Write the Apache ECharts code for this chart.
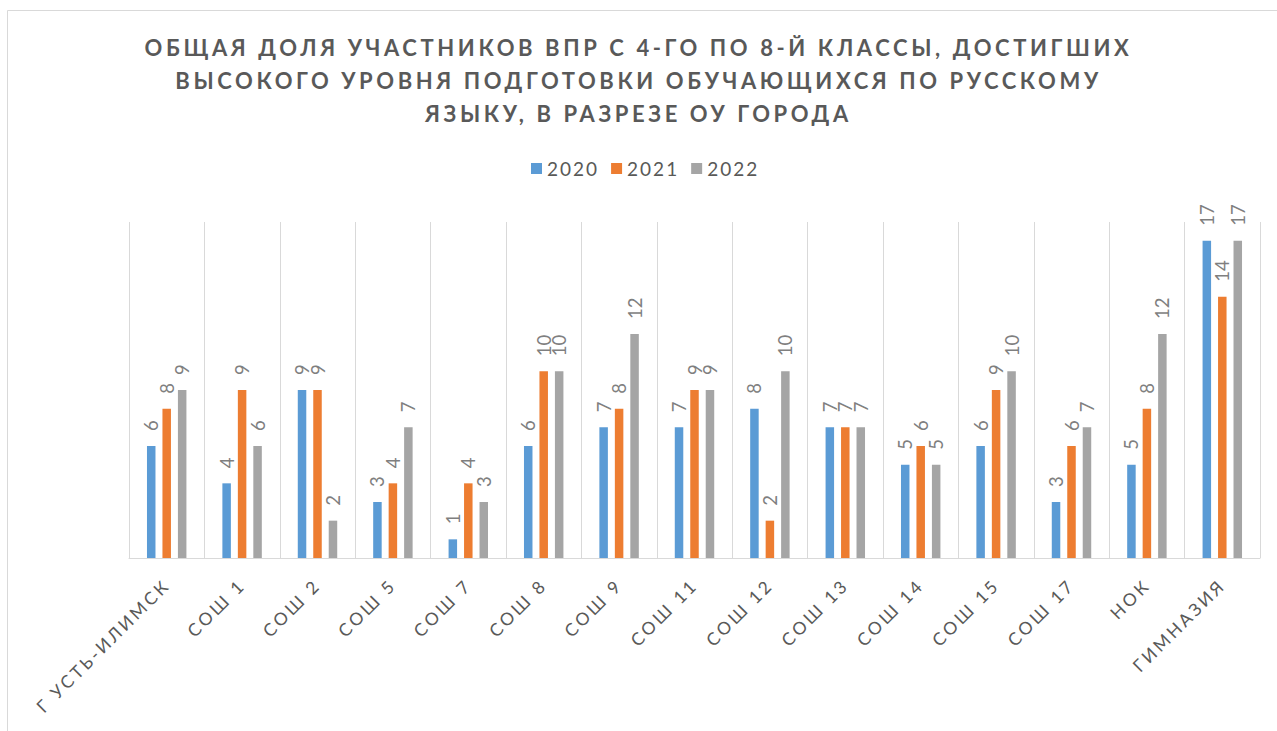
<!DOCTYPE html>
<html>
<head>
<meta charset="utf-8">
<script src="https://cdn.jsdelivr.net/npm/echarts@6/dist/echarts.min.js"></script>
<style>
html, body { margin: 0; padding: 0; background: #ffffff; }
#chart { width: 1277px; height: 731px; }
svg text[fill="#595959"] { letter-spacing: 3.6px; }
svg text[fill="#595958"] { letter-spacing: 2.9px; }
svg text[fill="#595957"] { letter-spacing: 2px; }
</style>
</head>
<body>
<div id="chart"></div>
<script>
var titleText = "ОБЩАЯ ДОЛЯ УЧАСТНИКОВ ВПР С 4-ГО ПО 8-Й КЛАССЫ, ДОСТИГШИХ\nВЫСОКОГО УРОВНЯ ПОДГОТОВКИ ОБУЧАЮЩИХСЯ ПО РУССКОМУ\nЯЗЫКУ, В РАЗРЕЗЕ ОУ ГОРОДА";
var categories = ["Г УСТЬ-ИЛИМСК", "СОШ 1", "СОШ 2", "СОШ 5", "СОШ 7", "СОШ 8", "СОШ 9", "СОШ 11", "СОШ 12", "СОШ 13", "СОШ 14", "СОШ 15", "СОШ 17", "НОК", "ГИМНАЗИЯ"];
var seriesNames = ["2020", "2021", "2022"];
var values2020 = [6, 4, 9, 3, 1, 6, 7, 7, 8, 7, 5, 6, 3, 5, 17];
var values2021 = [8, 9, 9, 4, 4, 10, 8, 9, 2, 7, 6, 9, 6, 8, 14];
var values2022 = [9, 6, 2, 7, 3, 10, 12, 9, 10, 7, 5, 10, 7, 12, 17];
var colors = ["#5b9bd5", "#ed7d31", "#a5a5a5"];

var chart = echarts.init(document.getElementById('chart'), null, { renderer: 'svg' });

function makeSeries(name, data, color) {
  return {
    name: name,
    type: 'bar',
    data: data,
    barWidth: 8.5,
    barGap: '82%',
    itemStyle: { color: color },
    label: {
      show: true,
      position: 'top',
      rotate: 90,
      align: 'left',
      verticalAlign: 'middle',
      distance: 15,
      color: '#7f7f7f',
      fontFamily: 'Lato',
      fontSize: 18.5
    }
  };
}

chart.setOption({
  animation: false,
  backgroundColor: '#ffffff',
  color: colors,
  title: {
    text: titleText,
    left: 'center',
    top: 26,
    textStyle: {
      color: '#595959',
      fontFamily: 'Lato',
      fontWeight: 'bold',
      fontSize: 22,
      lineHeight: 33
    }
  },
  legend: {
    data: seriesNames,
    left: 531,
    top: 159,
    padding: 0,
    itemWidth: 11,
    itemHeight: 11,
    itemGap: 20,
    icon: 'rect',
    textStyle: { color: '#595957', fontFamily: 'Lato', fontSize: 19 }
  },
  graphic: [{
    type: 'rect',
    shape: { x: 7.5, y: 10.5, width: 1400, height: 900 },
    style: { fill: 'none', stroke: '#d9d9d9', lineWidth: 1 },
    silent: true
  }],
  grid: { left: 129, right: 17, top: 222, bottom: 173 },
  xAxis: {
    type: 'category',
    data: categories,
    axisLine: { show: true, lineStyle: { color: '#d9d9d9', width: 1 } },
    axisTick: { show: false },
    splitLine: { show: true, interval: 0, lineStyle: { color: '#d9d9d9', width: 1 } },
    axisLabel: {
      interval: 0,
      rotate: 45,
      margin: 24,
      color: '#595958',
      fontFamily: 'Lato',
      fontSize: 17.5
    }
  },
  yAxis: {
    type: 'value',
    min: 0,
    max: 18,
    show: false,
    splitLine: { show: false }
  },
  series: [
    makeSeries(seriesNames[0], values2020, colors[0]),
    makeSeries(seriesNames[1], values2021, colors[1]),
    makeSeries(seriesNames[2], values2022, colors[2])
  ]
});
</script>
</body>
</html>
